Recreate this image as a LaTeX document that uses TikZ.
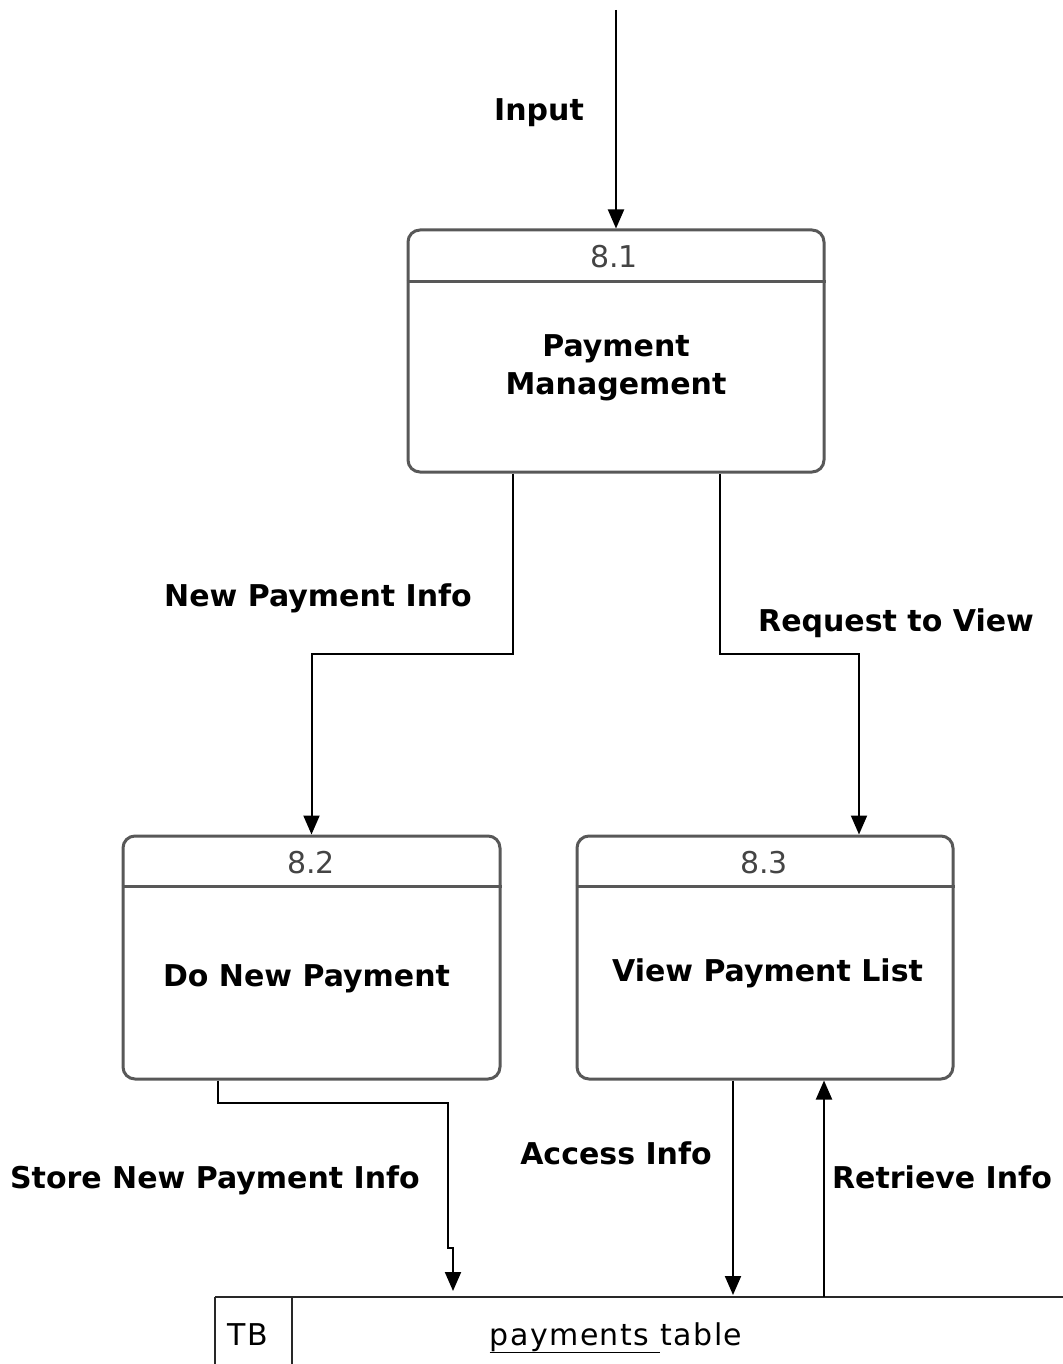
\documentclass[tikz,border=0pt]{standalone}
\usepackage{fontspec}
\setmainfont{DejaVu Sans}
\usetikzlibrary{arrows.meta}
\definecolor{boxgray}{RGB}{88,88,88}
\definecolor{numgray}{RGB}{68,68,68}
\definecolor{tblgray}{RGB}{40,40,40}
\begin{document}
\begin{tikzpicture}[x=1pt,y=-1pt,
  procbox/.style={draw=boxgray, line width=3pt, rounded corners=12pt, inner sep=0pt},
  boxline/.style={draw=boxgray, line width=3pt},
  flow/.style={draw=black, line width=2pt, -{Triangle[length=19pt,width=16pt]}},
  lbl/.style={font=\fontsize{30}{38}\selectfont\bfseries, text height=22pt, text depth=0pt, inner sep=0pt},
  title/.style={font=\fontsize{30}{38}\selectfont\bfseries, align=center, inner sep=0pt},
  num/.style={font=\fontsize{30}{36}\selectfont, text=numgray, text height=22pt, text depth=0pt, inner sep=0pt},
  tbltext/.style={font=\fontsize{30}{36}\selectfont\addfontfeature{LetterSpace=5}, text=black, inner sep=0pt, anchor=base},
  tblline/.style={draw=tblgray, line width=2.5pt},
]
\useasboundingbox (0,0) rectangle (1062,1364);

% process boxes
\node[procbox, minimum width=416pt, minimum height=242pt] (p81) at (616,351) {};
\node[procbox, minimum width=377pt, minimum height=243pt] (p82) at (311.5,957.5) {};
\node[procbox, minimum width=376pt, minimum height=243pt] (p83) at (765,957.5) {};

% header separators
\draw[boxline] (p81.west |- 0,281) -- (p81.east |- 0,281);
\draw[boxline] (p82.west |- 0,886) -- (p82.east |- 0,886);
\draw[boxline] (p83.west |- 0,886) -- (p83.east |- 0,886);

% box texts
\node[num] (n81) at (614,256) {8.1};
\node[num] (n82) at (311,862) {8.2};
\node[num] (n83) at (764,862) {8.3};
\node[title] (t81) at (616,368) {Payment\\Management};
\node[lbl] (t82) at (306.5,975) {Do New Payment};
\node[lbl] (t83) at (767.5,970) {View Payment List};

% data store
\node[inner sep=0pt, outer sep=0pt, minimum width=860pt, minimum height=80pt, anchor=north west] (tbl) at (215,1297) {};
\draw[tblline] (tbl.north west) -- (tbl.north east);
\draw[tblline] (tbl.north west) -- (tbl.south west);
\draw[tblline] ([xshift=77pt]tbl.north west) -- ([xshift=77pt]tbl.south west);
\node[tbltext] (tbtag) at (248,1345) {TB};
\node[tbltext] (tbname) at (616,1345) {\underline{payments\ }table};

% connectors
\coordinate (src) at (616,10);
\draw[flow] (src) -- (p81.north);
\draw[flow] ([xshift=-103pt]p81.south) -- ++(0,180) -| (p82.north);
\draw[flow] ([xshift=104pt]p81.south) -- ++(0,180) -| ([xshift=94pt]p83.north);

\coordinate (jog1) at (448,1248);
\coordinate (jog2) at (453,1248);
\draw[flow, shorten >=6pt] ([xshift=-94pt]p82.south) -- ++(0,22) -| (jog1) -- (jog2) -- (jog2 |- tbl.north);

\coordinate (acc) at ([xshift=-32pt]p83.south);
\draw[flow, shorten >=2pt] (acc) -- (acc |- tbl.north);
\coordinate (ret) at ([xshift=59pt]p83.south);
\draw[flow] (ret |- tbl.north) -- (ret);

% flow labels
\node[lbl] (lin) at (539,110) {Input};
\node[lbl] (lnew) at (318,595) {New Payment Info};
\node[lbl] (lreq) at (896,620) {Request to View};
\node[lbl] (lstore) at (215,1177) {Store New Payment Info};
\node[lbl] (lacc) at (616,1153) {Access Info};
\node[lbl] (lret) at (942,1177) {Retrieve Info};
\end{tikzpicture}
\end{document}
